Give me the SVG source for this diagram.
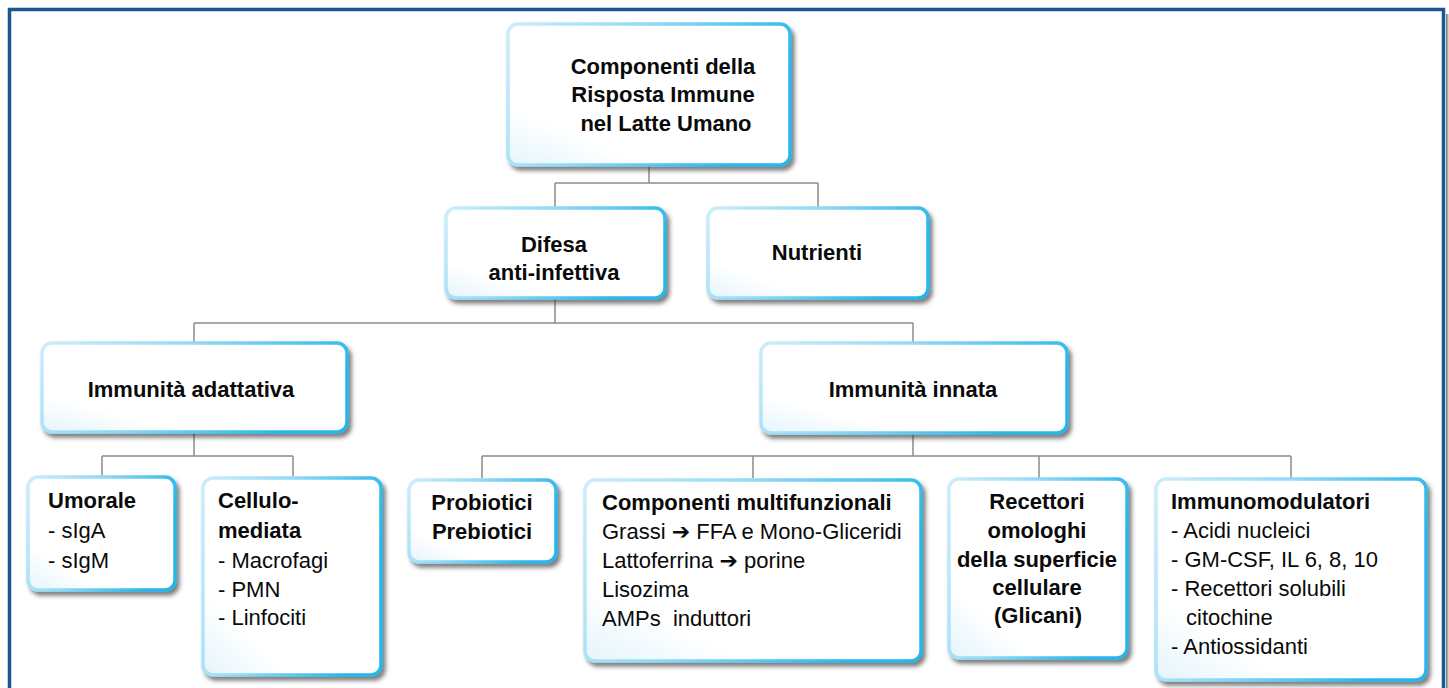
<svg xmlns="http://www.w3.org/2000/svg" width="1449" height="688" viewBox="0 0 1449 688">
<defs>
<linearGradient id="bord" x1="0" y1="0" x2="1" y2="0.3">
<stop offset="0" stop-color="#cdedfb"/>
<stop offset="0.45" stop-color="#94daf5"/>
<stop offset="1" stop-color="#27b7ea"/>
</linearGradient>
<linearGradient id="fillg" x1="0" y1="1" x2="0.6" y2="0.3">
<stop offset="0" stop-color="#e4f5fc"/>
<stop offset="0.35" stop-color="#ffffff"/>
<stop offset="1" stop-color="#ffffff"/>
</linearGradient>
<linearGradient id="fsh" x1="0" y1="0" x2="1" y2="0">
<stop offset="0" stop-color="#6f6f6f"/>
<stop offset="1" stop-color="#e6e6e6"/>
</linearGradient>
<filter id="sh" x="-10%" y="-10%" width="125%" height="130%">
<feDropShadow dx="3" dy="4" stdDeviation="2" flood-color="#3a3a3a" flood-opacity="0.65"/>
</filter>
</defs>
<style>
.box { fill: url(#fillg); stroke: url(#bord); stroke-width: 3.5; filter: url(#sh); }
.h { font-family: 'Liberation Sans', Arial, sans-serif; font-weight: bold; font-size: 22px; fill: #0a0a0a; }
.t { font-family: 'Liberation Sans', Arial, sans-serif; font-size: 22px; fill: #0a0a0a; }
.c { text-anchor: middle; }
.arr { font-family: 'DejaVu Sans', sans-serif; font-weight: bold; font-size: 22px; }
.conn { stroke: #8c8c8c; stroke-width: 1.5; fill: none; }
</style>
<rect x="0" y="0" width="1449" height="688" fill="#ffffff"/>
<rect x="1446" y="14" width="3" height="674" fill="url(#fsh)"/>
<rect id="frame" x="9.5" y="9.5" width="1434" height="700" fill="none" stroke="#1d5591" stroke-width="3.5"/>

<g id="connectors">
<path class="conn" d="M649 165 V183 M555 183 H818 M555 183 V207 M818 183 V207"/>
<path class="conn" d="M555 298 V323 M194 323 H913 M194 323 V342 M913 323 V342"/>
<path class="conn" d="M194 432 V456 M102 456 H293 M102 456 V476 M293 456 V476"/>
<path class="conn" d="M913 433 V456 M482 456 H1291 M482 456 V478 M753 456 V478 M1039 456 V478 M1291 456 V478"/>
</g>

<g id="n-root">
<rect class="box" x="508" y="24" width="282" height="141" rx="10"/>
<text class="h c" x="663" y="74">Componenti della</text>
<text class="h c" x="663" y="102">Risposta Immune</text>
<text class="h c" x="666" y="131">nel Latte Umano</text>
</g>

<g id="n-difesa">
<rect class="box" x="446" y="208" width="219" height="90" rx="10"/>
<text class="h c" x="554" y="252">Difesa</text>
<text class="h c" x="554" y="280">anti-infettiva</text>
</g>

<g id="n-nutrienti">
<rect class="box" x="708" y="208" width="220" height="90" rx="10"/>
<text class="h c" x="817" y="260">Nutrienti</text>
</g>

<g id="n-adattativa">
<rect class="box" x="42" y="343" width="305" height="89" rx="10"/>
<text class="h c" x="191" y="397">Immunità adattativa</text>
</g>

<g id="n-innata">
<rect class="box" x="761" y="343" width="306" height="90" rx="10"/>
<text class="h c" x="913" y="397">Immunità innata</text>
</g>

<g id="n-umorale">
<rect class="box" x="28" y="477" width="147" height="113" rx="10"/>
<text class="h" x="48" y="508">Umorale</text>
<text class="t" x="48" y="538">- sIgA</text>
<text class="t" x="48" y="568">- sIgM</text>
</g>

<g id="n-cellulo">
<rect class="box" x="203" y="478" width="178" height="197" rx="10"/>
<text class="h" x="218" y="508">Cellulo-</text>
<text class="h" x="218" y="538">mediata</text>
<text class="t" x="218" y="568">- Macrofagi</text>
<text class="t" x="218" y="597">- PMN</text>
<text class="t" x="218" y="625">- Linfociti</text>
</g>

<g id="n-probiotici">
<rect class="box" x="409" y="480" width="147" height="82" rx="10"/>
<text class="h c" x="482" y="510">Probiotici</text>
<text class="h c" x="482" y="539">Prebiotici</text>
</g>

<g id="n-multifunzionali">
<rect class="box" x="585" y="480" width="336" height="181" rx="10"/>
<text class="h" x="602" y="510">Componenti multifunzionali</text>
<text class="t" x="602" y="539">Grassi <tspan class="arr">➔</tspan> FFA e Mono-Gliceridi</text>
<text class="t" x="602" y="568">Lattoferrina <tspan class="arr">➔</tspan> porine</text>
<text class="t" x="602" y="597">Lisozima</text>
<text class="t" x="602" y="626" xml:space="preserve">AMPs  induttori</text>
</g>

<g id="n-recettori">
<rect class="box" x="949" y="479" width="178" height="179" rx="10"/>
<text class="h c" x="1037" y="509">Recettori</text>
<text class="h c" x="1037" y="538">omologhi</text>
<text class="h c" x="1037" y="567">della superficie</text>
<text class="h c" x="1037" y="595">cellulare</text>
<text class="h c" x="1038" y="623">(Glicani)</text>
</g>

<g id="n-immunomodulatori">
<rect class="box" x="1156" y="479" width="270" height="201" rx="10"/>
<text class="h" x="1171" y="509">Immunomodulatori</text>
<text class="t" x="1171" y="538">- Acidi nucleici</text>
<text class="t" x="1171" y="567">- GM-CSF, IL 6, 8, 10</text>
<text class="t" x="1171" y="596">- Recettori solubili</text>
<text class="t" x="1186" y="625">citochine</text>
<text class="t" x="1171" y="654">- Antiossidanti</text>
</g>
</svg>
